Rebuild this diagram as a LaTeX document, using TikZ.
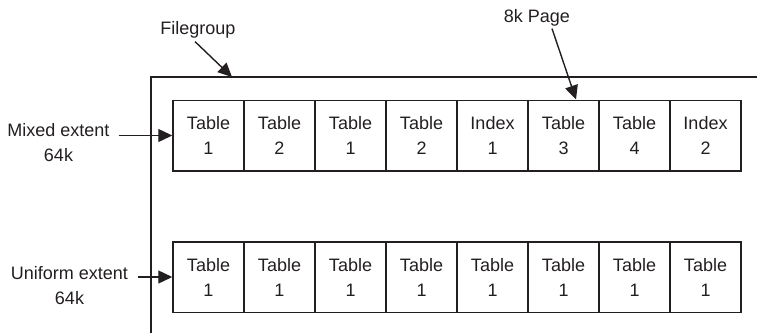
\documentclass[tikz,border=0pt]{standalone}
\usepackage{fontspec}
\setmainfont{Liberation Sans}
\usetikzlibrary{arrows.meta}
\definecolor{ink}{HTML}{231F20}
\begin{document}
\begin{tikzpicture}[x=1pt,y=-1pt,
  every node/.style={text=ink,font=\fontsize{18}{25}\selectfont,align=center},
  page/.style={draw=ink,line width=1.5pt,minimum width=71pt,minimum height=70.5pt,inner sep=0pt},
  label/.style={inner sep=0pt},
  arr/.style={draw=ink,line width=1.4pt,-{Triangle[length=14pt,width=13pt]}}]
  \useasboundingbox (0,0) rectangle (757,333);

  % filegroup frame (open on the right and bottom)
  \coordinate (fgcorner) at (151,77);
  \coordinate (fgbottom) at (151,333);
  \coordinate (fgright) at (757,77);
  \coordinate (fgtip) at (232,77);
  \draw[ink,line width=1.5pt] (fgbottom) -- (fgcorner) -- (fgright);

  % mixed extent: eight pages of different objects
  \foreach \t [count=\i] in {Table\\1,Table\\2,Table\\1,Table\\2,Index\\1,Table\\3,Table\\4,Index\\2}
    \node[page] (m\i) at ({173+35.5+71*(\i-1)},135.5) {\t};

  % uniform extent: eight pages of one table
  \foreach \i in {1,...,8}
    \node[page] (u\i) at ({173+35.5+71*(\i-1)},277) {Table\\1};

  % labels
  \node[label] (fg) at (198,30) {Filegroup};
  \node[label] (pg) at (537,18) {8k Page};
  \node[label] (mixed) at (58.5,142.5) {Mixed extent\\64k};
  \node[label] (uni) at (69.5,285.5) {Uniform extent\\64k};

  % arrows
  \draw[arr] ([xshift=-3pt,yshift=-3pt]fg.south) -- (fgtip);
  \draw[arr] ([xshift=15pt,yshift=-2pt]pg.south) -- ([xshift=12.5pt]m6.north);
  \draw[arr] (mixed.east |- m1.west) ++(9,0) -- (m1.west);
  \draw[arr] (uni.east |- u1.west) ++(10,0) -- (u1.west);
\end{tikzpicture}
\end{document}
